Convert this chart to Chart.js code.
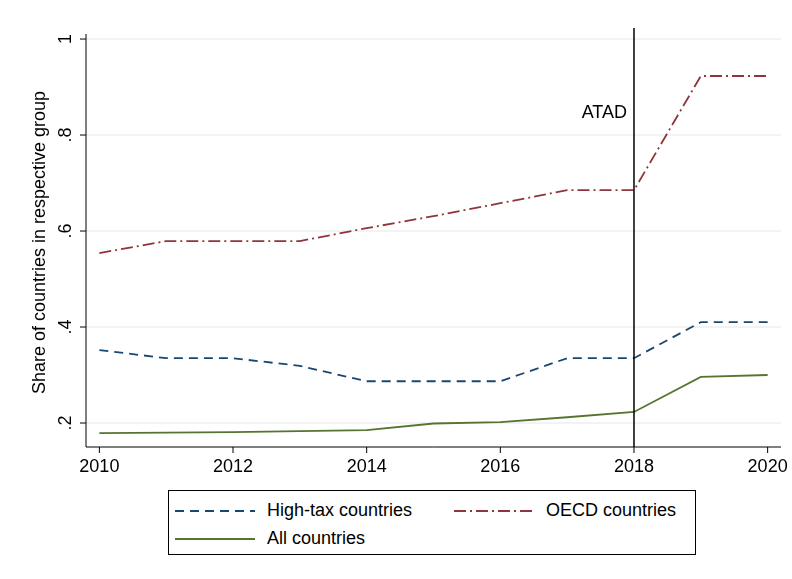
<!DOCTYPE html>
<html><head><meta charset="utf-8">
<script src="https://cdn.jsdelivr.net/npm/chart.js@4"></script>
<style>
body{margin:0;background:#fff;font-family:Arial,"Liberation Sans",sans-serif}
#wrap{position:relative;width:792px;height:579px}
#legend{position:absolute;left:168px;top:490px;width:528px;height:65px;border:1px solid #000;box-sizing:border-box;font-size:18px}
.it{position:absolute;display:flex;align-items:center}
.it svg{margin-right:12px}
</style></head><body>
<div id="wrap"><canvas id="c" width="792" height="480"></canvas>
<div id="legend">
 <div class="it" style="left:6px;top:9px"><svg width="80" height="4"><line x1="0" y1="2" x2="80" y2="2" stroke="#1a476f" stroke-width="2" stroke-dasharray="9,6"/></svg>High-tax countries</div>
 <div class="it" style="left:285px;top:9px"><svg width="80" height="4"><line x1="0" y1="2" x2="80" y2="2" stroke="#90353b" stroke-width="2" stroke-dasharray="12,4,2,4"/></svg>OECD countries</div>
 <div class="it" style="left:6px;top:37px"><svg width="80" height="4"><line x1="0" y1="2" x2="80" y2="2" stroke="#55752f" stroke-width="2"/></svg>All countries</div>
</div></div>
<script>
const years = [2010,2011,2012,2013,2014,2015,2016,2017,2018,2019,2020];
const highTax = [0.352,0.335,0.335,0.319,0.287,0.287,0.287,0.335,0.335,0.41,0.41];
const oecd = [0.554,0.579,0.579,0.579,0.606,0.631,0.658,0.685,0.685,0.923,0.923];
const allC = [0.179,0.180,0.181,0.183,0.185,0.199,0.202,0.212,0.223,0.296,0.300];
const xTicks = [2010,2012,2014,2016,2018,2020];
const yTicks = [0.2,0.4,0.6,0.8,1];
const yLabels = [".2",".4",".6",".8","1"];
const eventYear = 2018, eventLabel = "ATAD";

const pts = (v) => years.map((y, i) => ({ x: y, y: v[i] }));

const decor = {
  id: "decor",
  beforeDatasetsDraw(ch) {
    const { ctx, chartArea: a, scales: { y } } = ch;
    ctx.save();
    ctx.strokeStyle = "#e6e6e6"; ctx.lineWidth = 1;
    yTicks.forEach((t) => { const py = y.getPixelForValue(t); ctx.beginPath(); ctx.moveTo(a.left, py); ctx.lineTo(a.right, py); ctx.stroke(); });
    ctx.restore();
  },
  afterDraw(ch) {
    const { ctx, chartArea: a, scales: { x, y } } = ch;
    ctx.save();
    ctx.strokeStyle = "#000"; ctx.fillStyle = "#000"; ctx.lineWidth = 1;
    ctx.beginPath(); ctx.moveTo(a.left, a.top + 6); ctx.lineTo(a.left, a.bottom); ctx.lineTo(a.right, a.bottom); ctx.stroke();
    ctx.font = "18px Arial, 'Liberation Sans'";
    yTicks.forEach((t, i) => {
      const py = y.getPixelForValue(t);
      ctx.beginPath(); ctx.moveTo(a.left - 6, py); ctx.lineTo(a.left, py); ctx.stroke();
      ctx.save(); ctx.translate(a.left - 11, py); ctx.rotate(-Math.PI / 2);
      ctx.textAlign = "center"; ctx.textBaseline = "bottom"; ctx.fillText(yLabels[i], 0, 0); ctx.restore();
    });
    xTicks.forEach((t) => {
      const px = x.getPixelForValue(t);
      ctx.beginPath(); ctx.moveTo(px, a.bottom); ctx.lineTo(px, a.bottom + 6); ctx.stroke();
      ctx.textAlign = "center"; ctx.textBaseline = "top"; ctx.fillText(String(t), px, a.bottom + 11);
    });
    ctx.save(); ctx.translate(49, (a.top + a.bottom) / 2 + 5); ctx.rotate(-Math.PI / 2);
    ctx.textAlign = "center"; ctx.textBaseline = "bottom"; ctx.fillText("Share of countries in respective group", 0, 0); ctx.restore();
    const ex = x.getPixelForValue(eventYear);
    ctx.lineWidth = 1.5;
    ctx.beginPath(); ctx.moveTo(ex, a.top); ctx.lineTo(ex, a.bottom); ctx.stroke();
    ctx.textAlign = "right"; ctx.textBaseline = "middle"; ctx.fillText(eventLabel, ex - 7, y.getPixelForValue(0.846));
    ctx.restore();
  }
};

new Chart(document.getElementById("c"), {
  type: "line",
  data: { datasets: [
    { label: "High-tax countries", data: pts(highTax), borderColor: "#1a476f", borderDash: [9, 6], borderWidth: 1.8, pointRadius: 0, tension: 0 },
    { label: "OECD countries", data: pts(oecd), borderColor: "#90353b", borderDash: [12, 4, 2, 4], borderWidth: 1.8, pointRadius: 0, tension: 0 },
    { label: "All countries", data: pts(allC), borderColor: "#55752f", borderWidth: 1.8, pointRadius: 0, tension: 0 },
  ] },
  options: {
    responsive: false, animation: false,
    layout: { padding: { left: 86, right: 11, top: 28, bottom: 33 } },
    plugins: { legend: { display: false }, tooltip: { enabled: false } },
    scales: {
      x: { type: "linear", min: 2009.8, max: 2020.2, display: false },
      y: { min: 0.15, max: 1.023, display: false },
    },
  },
  plugins: [decor],
});
</script></body></html>
